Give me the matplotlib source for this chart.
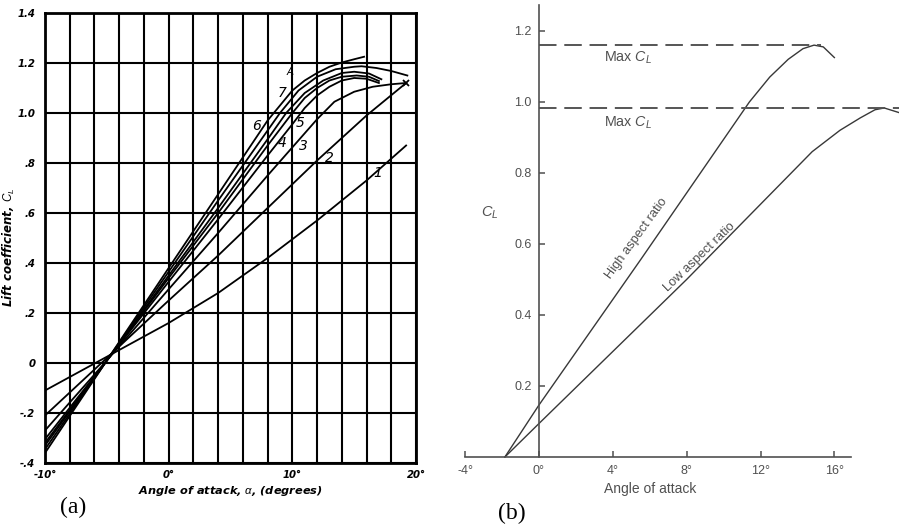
import matplotlib
matplotlib.use('Agg')
import matplotlib.pyplot as plt
import numpy as np

plt.rcParams['mathtext.fontset'] = 'custom'
plt.rcParams['mathtext.rm'] = 'Liberation Sans'
plt.rcParams['mathtext.it'] = 'Liberation Sans:italic'

# ---------------- Panel (a) data: lift coefficient vs angle of attack ----------------
c1_x = [-10, -5, 0, 4, 8, 12, 16, 19.2]
c1_y = [-0.11, 0.025, 0.16, 0.28, 0.42, 0.57, 0.73, 0.87]

c2_x = [-10, -5, 0, 4, 8, 12, 16, 19.2]
c2_y = [-0.21, 0.02, 0.25, 0.43, 0.62, 0.81, 0.99, 1.12]

c3_x = [-10, -5, 0, 4, 8, 12, 13.4, 15, 16.5, 18, 19.2]
c3_y = [-0.27, 0.01, 0.295, 0.52, 0.75, 0.975, 1.045, 1.085, 1.105, 1.115, 1.12]

c4_x = [-10, -5, 0, 4, 8, 10, 11, 12, 13, 14, 15, 16, 17]
c4_y = [-0.305, 0.01, 0.325, 0.575, 0.83, 0.955, 1.02, 1.07, 1.105, 1.13, 1.14, 1.137, 1.12]

c5_x = [-10, -5, 0, 4, 8, 10, 11, 12, 13, 14, 15.2, 16.2, 17]
c5_y = [-0.32, 0.01, 0.34, 0.60, 0.87, 1.0, 1.06, 1.10, 1.13, 1.145, 1.15, 1.145, 1.128]

c6_x = [-10, -5, 0, 4, 8, 9.5, 11, 12.5, 14, 15, 16.2, 17.2]
c6_y = [-0.33, 0.01, 0.35, 0.62, 0.895, 1.0, 1.08, 1.13, 1.16, 1.165, 1.158, 1.135]

c7_x = [-10, -5, 0, 4, 8, 9, 10.5, 12, 13.5, 15, 15.6, 16.8, 18, 19.3]
c7_y = [-0.345, 0.01, 0.365, 0.65, 0.93, 1.0, 1.09, 1.145, 1.175, 1.185, 1.187, 1.18, 1.168, 1.15]

cA_x = [-10, -5, 0, 4, 8, 10, 11, 12, 13, 14, 15, 15.8]
cA_y = [-0.36, 0.01, 0.38, 0.675, 0.97, 1.09, 1.13, 1.16, 1.185, 1.202, 1.215, 1.225]

curve_labels = ['1', '2', '3', '4', '5', '6', '7', 'A']
label_x = [16.9, 13.0, 10.9, 9.2, 10.6, 7.1, 9.2, 9.8]
label_y = [0.76, 0.82, 0.87, 0.88, 0.96, 0.95, 1.08, 1.165]

a_yticks = [-0.4, -0.2, 0, 0.2, 0.4, 0.6, 0.8, 1.0, 1.2, 1.4]
a_yticklabels = ['-.4', '-.2', '0', '.2', '.4', '.6', '.8', '1.0', '1.2', '1.4']
a_xticks = [-10, 0, 10, 20]
a_xticklabels = ['-10°', '0°', '10°', '20°']

# ---------------- Panel (b) data ----------------
high_x = [-1.84, 0, 5.5, 11.4, 12.5, 13.5, 14.3, 14.9, 15.4, 16.0]
high_y = [0.0, 0.146, 0.555, 1.0, 1.07, 1.12, 1.15, 1.16, 1.155, 1.125]
low_x = [-1.84, 0, 8, 14.8, 16.3, 17.4, 18.2, 18.7, 19.5]
low_y = [0.0, 0.094, 0.50, 0.86, 0.92, 0.955, 0.978, 0.983, 0.97]
max_cl_high = 1.16
max_cl_low = 0.983
b_xticks = [-4, 0, 4, 8, 12, 16]
b_xticklabels = ['-4°', '0°', '4°', '8°', '12°', '16°']
b_yticks = [0.2, 0.4, 0.6, 0.8, 1.0, 1.2]
b_yticklabels = ['0.2', '0.4', '0.6', '0.8', '1.0', '1.2']

W, H = 899, 531
fig = plt.figure(figsize=(W / 100, H / 100), dpi=100)


def box(l, t, r, b):
    return [l / W, 1 - b / H, (r - l) / W, (b - t) / H]


# ---------------- Panel (a) ----------------
axa = fig.add_axes(box(45, 13, 416, 463))
axa.set_xlim(-10, 20)
axa.set_ylim(-0.4, 1.4)
axa.set_xticks(a_xticks)
axa.set_xticklabels(a_xticklabels)
axa.set_xticks(np.arange(-10, 21, 2), minor=True)
axa.set_yticks(a_yticks)
axa.set_yticklabels(a_yticklabels)
axa.grid(which='both', axis='x', color='black', lw=1.5)
axa.grid(which='major', axis='y', color='black', lw=1.5)
axa.tick_params(which='both', length=0)
axa.tick_params(axis='y', pad=7)
axa.tick_params(axis='x', pad=5)
for lab in axa.get_xticklabels() + axa.get_yticklabels():
    lab.set_fontstyle('italic')
    lab.set_fontweight('bold')
    lab.set_fontsize(7.3)
for sp in axa.spines.values():
    sp.set_linewidth(2)
    sp.set_color('black')

for xs, ys in [(c1_x, c1_y), (c2_x, c2_y), (c3_x, c3_y), (c4_x, c4_y),
               (c5_x, c5_y), (c6_x, c6_y), (c7_x, c7_y), (cA_x, cA_y)]:
    axa.plot(xs, ys, color='black', lw=1.3, zorder=3)
axa.plot([c2_x[-1]], [c2_y[-1]], marker='x', color='black', ms=5, mew=1.3, zorder=4)

for t, x, y in zip(curve_labels, label_x, label_y):
    axa.text(x, y, t, fontsize=10 if t != 'A' else 7.5, style='italic',
             ha='center', va='center', color='black', zorder=5)

axa.set_xlabel('Angle of attack, $\\alpha$, (degrees)', fontsize=8.2, style='italic',
               fontweight='bold', labelpad=3)
axa.set_ylabel('Lift coefficient, $C_L$', fontsize=8.5, style='italic',
               fontweight='bold', labelpad=6)
axa.yaxis.set_label_coords(-0.075, 0.48)

fig.text(73 / W, 1 - 507 / H, '(a)', fontsize=17, family='Liberation Serif',
         ha='center', va='center')

# ---------------- Panel (b) ----------------
gray = '#505050'
axb = fig.add_axes(box(465, 5, 851, 457))
axb.set_xlim(-4, 16.9)
axb.set_ylim(0, 1.273)
axb.spines['top'].set_visible(False)
axb.spines['right'].set_visible(False)
axb.spines['left'].set_position(('data', 0))
for sp in ['left', 'bottom']:
    axb.spines[sp].set_color(gray)
    axb.spines[sp].set_linewidth(1.2)
axb.set_xticks(b_xticks)
axb.set_xticklabels(b_xticklabels)
axb.set_yticks(b_yticks)
axb.set_yticklabels(b_yticklabels)
axb.tick_params(direction='in', length=4, width=1.1, color=gray, labelcolor=gray,
                labelsize=9)
axb.tick_params(axis='x', pad=6)
axb.tick_params(axis='y', pad=5)

axb.plot(high_x, high_y, color='#383838', lw=1.0, clip_on=False)
axb.plot(low_x, low_y, color='#383838', lw=1.0, clip_on=False)
axb.plot([0, 15.3], [max_cl_high, max_cl_high], color='#555555', lw=1.4,
         dashes=(9, 4), clip_on=False)
axb.plot([0, 21], [max_cl_low, max_cl_low], color='#555555', lw=1.4,
         dashes=(9, 4), clip_on=False)

axb.text(3.55, 1.124, 'Max $C_L$', fontsize=10.3, color=gray, va='center', ha='left',
         family='Liberation Sans')
axb.text(3.55, 0.941, 'Max $C_L$', fontsize=10.3, color=gray, va='center', ha='left',
         family='Liberation Sans')
axb.text(5.3, 0.615, 'High aspect ratio', fontsize=9.3, color=gray, rotation=54,
         ha='center', va='center', family='Liberation Sans')
axb.text(8.7, 0.562, 'Low aspect ratio', fontsize=9.3, color=gray, rotation=44,
         ha='center', va='center', family='Liberation Sans')
axb.text(-2.65, 0.687, '$C_L$', fontsize=10.5, color=gray, ha='center', va='center')
axb.set_xlabel('Angle of attack', fontsize=10, color=gray, family='Liberation Sans',
               labelpad=4)
axb.xaxis.set_label_coords((650 - 465) / 386, -0.055)
for lab in axb.get_xticklabels() + axb.get_yticklabels():
    lab.set_family('Liberation Sans')

fig.text(512 / W, 1 - 513 / H, '(b)', fontsize=17, family='Liberation Serif',
         ha='center', va='center')

fig.savefig('out.png', dpi=100)
